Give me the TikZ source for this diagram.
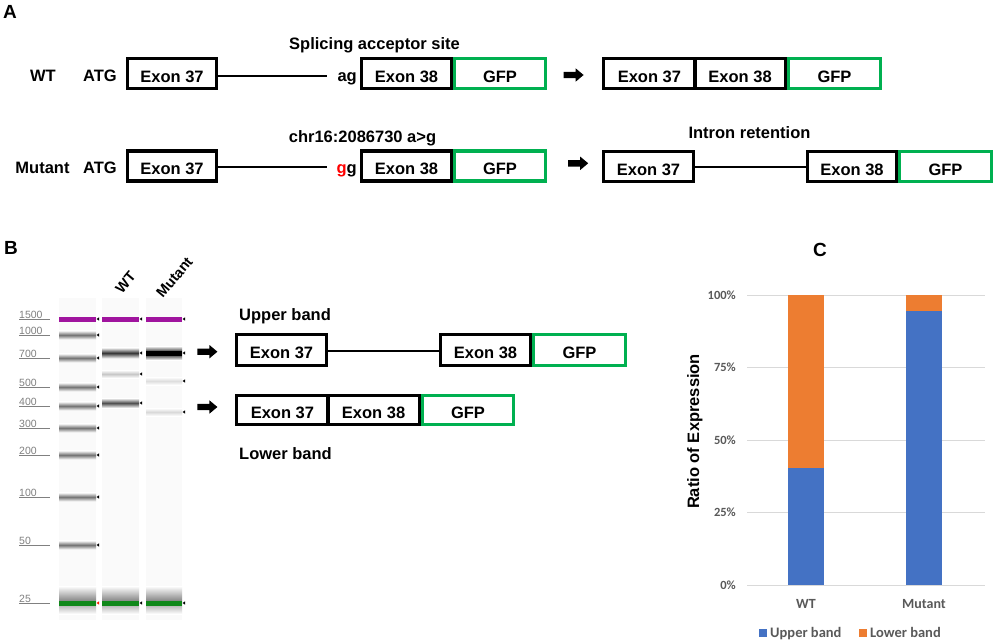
\documentclass[tikz,border=0pt]{standalone}
\usepackage{fontspec}
\setmainfont{Liberation Sans}
\newfontfamily\chartfont{Carlito}
\usetikzlibrary{shapes.arrows}
\definecolor{gfpgreen}{HTML}{00B050}
\definecolor{barblue}{HTML}{4472C4}
\definecolor{barorange}{HTML}{ED7D31}
\definecolor{axisgrey}{HTML}{595959}
\definecolor{gridgrey}{HTML}{D9D9D9}
\definecolor{ladpurple}{HTML}{A0149E}
\definecolor{ladgreen}{HTML}{10881A}
\definecolor{ladlabel}{HTML}{808080}
\newcommand\gband[5]{\shade[top color=white, bottom color=white, middle color=#4] (#1,#3-#5) rectangle (#2,#3+#5);}
\newcommand\gtick[3]{\fill[#3] (#1,#2) -- (#1+2.5,#2-1.6) -- (#1+2.5,#2+1.6) -- cycle;}
\newcommand\gladlabel[3]{\draw[ladlabel, line width=0.7pt] (19,#2) -- (50,#2);
  \node[ladtxt, anchor=base west] (#1) at (19,#2-1.2) {#3};}
\begin{document}
\begin{tikzpicture}[x=1pt,y=-1pt,
  lbl/.style={font=\bfseries\fontsize{16.5}{18}\selectfont, inner sep=0pt, text height=12pt, text depth=0pt},
  panel/.style={font=\bfseries\fontsize{19}{21}\selectfont, inner sep=0pt, text height=13.5pt, text depth=0pt},
  exonbox/.style={draw=black, line width=3.2pt, minimum height=30pt, inner sep=0pt,
     font=\bfseries\fontsize{16.5}{18}\selectfont, text height=17pt, text depth=0pt},
  gfpbox/.style={exonbox, draw=gfpgreen},
  intron/.style={line width=2.7pt},
  blockarrow/.style={single arrow, fill=black, draw=none, minimum height=20pt,
     single arrow head extend=3.5pt, single arrow tip angle=80, inner sep=3pt},
  ladtxt/.style={font=\fontsize{10.5}{12}\selectfont, text=ladlabel, inner sep=0pt},
  lanelbl/.style={font=\bfseries\fontsize{14.5}{16}\selectfont, inner sep=0pt, rotate=50},
  ticklbl/.style={font=\chartfont\bfseries\fontsize{12.5}{14}\selectfont, text=axisgrey, inner sep=0pt, text height=8pt, text depth=0pt},
  catlbl/.style={font=\chartfont\bfseries\fontsize{14}{16}\selectfont, text=axisgrey, inner sep=0pt, text height=9pt, text depth=0pt},
  leglbl/.style={font=\chartfont\bfseries\fontsize{14.5}{16}\selectfont, text=axisgrey, inner sep=0pt, text height=9.3pt, text depth=0pt}
]
\fill[white] (0,0) rectangle (996,641);
\useasboundingbox (0,0) rectangle (996,641);

% ---------------- Panel A ----------------
\node[panel] (pA) at (10,11.5) {A};
\node[lbl] (splice) at (374.5,43) {Splicing acceptor site};
\node[lbl] (wtA) at (43,75.8) {WT};
\node[lbl] (atg1) at (100,75.8) {ATG};
\node[exonbox, minimum width=88.8pt] (wa37) at (172,73.5) {Exon 37};
\coordinate (ia) at (327,76);
\draw[intron] (wa37.east |- ia) -- (ia);
\node[lbl, anchor=east] (ag) at (357,75.8) {ag};
\node[exonbox, minimum width=89.8pt] (wa38) at (406.5,73.5) {Exon 38};
\node[gfpbox, minimum width=90.8pt] (wagfp) at (500,73.5) {GFP};
\node[blockarrow] (arr1) at (571.7,75) {};
\node[exonbox, minimum width=91.2pt] (wb37) at (649.4,73.5) {Exon 37};
\node[exonbox, minimum width=90.2pt] (wb38) at (740.1,73.5) {Exon 38};
\node[gfpbox, minimum width=91.8pt] (wbgfp) at (834.5,73.5) {GFP};

\node[lbl] (chr) at (362.5,136) {chr16:2086730 a>g};
\node[lbl] (intret) at (749.5,132.5) {Intron retention};
\node[lbl] (mutA) at (42.5,167.5) {Mutant};
\node[lbl] (atg2) at (100,167.5) {ATG};
\node[exonbox, minimum width=88.8pt] (ma37) at (172,166) {Exon 37};
\coordinate (ib) at (327,167);
\draw[intron] (ma37.east |- ib) -- (ib);
\node[lbl, anchor=east] (gg) at (357,167.5) {{\color{red}g}g};
\node[exonbox, minimum width=89.8pt] (ma38) at (406.5,166) {Exon 38};
\node[gfpbox, minimum width=90.8pt] (magfp) at (500,166) {GFP};
\node[blockarrow] (arr2) at (576.3,163.3) {};
\node[exonbox, minimum width=89.8pt] (mb37) at (648.5,166.5) {Exon 37};
\node[exonbox, minimum width=88.8pt] (mb38) at (852,166.5) {Exon 38};
\node[gfpbox, minimum width=91.8pt] (mbgfp) at (945.5,166.5) {GFP};
\draw[intron] (mb37.east |- 0,167) -- (mb38.west |- 0,167);

% ---------------- Panel B ----------------
\node[panel] (pB) at (11,248) {B};
% lanes background
\fill[black!2] (59,298) rectangle (96,620);
\fill[black!2] (102,298) rectangle (139,620);
\fill[black!2] (146,298) rectangle (182,620);
% ladder
\foreach \yy in {335,358,387,406,428,455,497,545} { \gband{59}{96}{\yy}{black!55}{4.5} }
\gband{59}{96}{600}{black!45}{14}
\gband{102}{139}{600}{black!45}{14}
\gband{146}{182}{600}{black!45}{14}
\foreach \xa/\xb in {59/96,102/139,146/182} {
  \fill[ladpurple] (\xa,316.8) rectangle (\xb,321.6);
  \fill[ladgreen] (\xa,600.5) rectangle (\xb,605.5);
}
% WT lane
\gband{102}{139}{353}{black!80}{5.5}
\gband{102}{139}{374}{black!22}{4}
\gband{102}{139}{403}{black!70}{5}
% Mutant lane
\gband{146}{182}{353}{black}{7}
\fill[black] (146,350.5) rectangle (182,356);
\gband{146}{182}{381}{black!13}{4}
\gband{146}{182}{412}{black!15}{4}
% ticks
\foreach \yy in {319,335,358,387,406,428,455,497,545} { \gtick{96.5}{\yy}{black} }
\gtick{96.5}{603}{red!80!orange}
\foreach \yy in {319,353,374,403,603} { \gtick{139.5}{\yy}{black} }
\foreach \yy in {319,353,381,412,603} { \gtick{182.5}{\yy}{black} }
% ladder labels
\gladlabel{l1500}{319.5}{1500}
\gladlabel{l1000}{335.5}{1000}
\gladlabel{l700}{358.5}{700}
\gladlabel{l500}{387.5}{500}
\gladlabel{l400}{406.5}{400}
\gladlabel{l300}{428.5}{300}
\gladlabel{l200}{455.5}{200}
\gladlabel{l100}{497.5}{100}
\gladlabel{l50}{545.5}{50}
\gladlabel{l25}{603.5}{25}
\node[lanelbl] (gelWT) at (125.5,282.5) {WT};
\node[lanelbl] (gelMut) at (174.5,277.5) {Mutant};

% band structures
\node[lbl, anchor=west] (upper) at (239,314) {Upper band};
\node[blockarrow] (arr3) at (205.5,351.7) {};
\node[exonbox, minimum width=89.8pt, minimum height=30.8pt] (u37) at (281.5,350) {Exon 37};
\node[exonbox, minimum width=89.8pt, minimum height=30.8pt] (u38) at (485.5,350) {Exon 38};
\node[gfpbox, minimum width=91.8pt, minimum height=30.8pt] (ugfp) at (579.5,350) {GFP};
\draw[intron] (u37.east |- 0,351) -- (u38.west |- 0,351);
\node[blockarrow] (arr4) at (205.5,407) {};
\node[exonbox, minimum width=91.2pt, minimum height=29pt] (l37) at (282.4,410) {Exon 37};
\node[exonbox, minimum width=91.2pt, minimum height=29pt] (l38) at (373.6,410) {Exon 38};
\node[gfpbox, minimum width=90.8pt, minimum height=29pt] (lgfp) at (468,410) {GFP};
\node[lbl, anchor=west] (lower) at (239,453.5) {Lower band};

% ---------------- Panel C ----------------
\node[panel] (pC) at (820,250) {C};
\foreach \yy/\tt [count=\i] in {295/100\%,367.5/75\%,440/50\%,512.5/25\%,585/0\%} {
  \draw[gridgrey, line width=1pt] (747,\yy) -- (985,\yy);
  \node[ticklbl, anchor=east] (tick\i) at (736,\yy) {\tt};
}
\fill[barblue] (788,468) rectangle (824,585);
\fill[barorange] (788,295) rectangle (824,468);
\fill[barblue] (906,311) rectangle (942,585);
\fill[barorange] (906,295) rectangle (942,311);
\node[catlbl] (catWT) at (806,603.5) {WT};
\node[catlbl] (catMut) at (924,603.5) {Mutant};
\node[lbl, rotate=90] (ylab) at (693,431.5) {Ratio of Expression};
\fill[barblue] (759,629) rectangle (767,637);
\node[leglbl, anchor=west] (legU) at (770,632.5) {Upper band};
\fill[barorange] (859,629) rectangle (867,637);
\node[leglbl, anchor=west] (legL) at (870,632.5) {Lower band};
\end{tikzpicture}
\end{document}
